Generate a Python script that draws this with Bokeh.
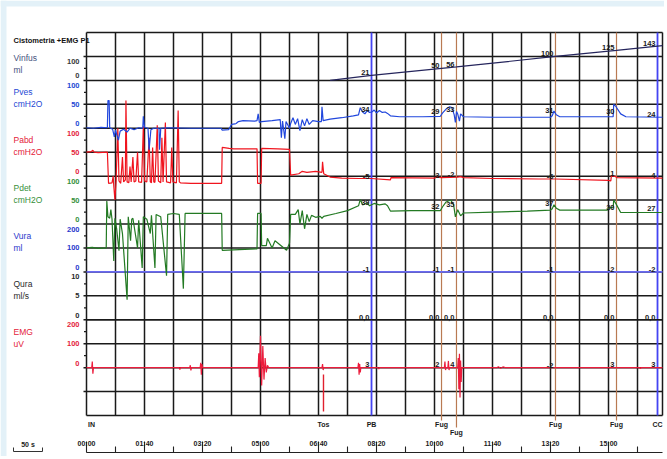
import numpy as np
from bokeh.plotting import figure
from bokeh.models import Range1d, ColumnDataSource
from bokeh.core.properties import value
from bokeh.embed import file_html
from bokeh.resources import INLINE

# ---------------------------------------------------------------- data
title_text = "Cistometria +EMG P1"
channel_names = ["Vinfus", "Pves", "Pabd", "Pdet", "Vura", "Qura", "EMG"]
channel_units = ["ml", "cmH2O", "cmH2O", "cmH2O", "ml", "ml/s", "uV"]
channel_ticks = [[100, 0], [100, 50, 0], [100, 50, 0], [100, 50, 0],
                 [200, 100, 0], [10, 5, 0], [200, 100, 0]]

time_tick_seconds = [0, 100, 200, 300, 400, 500, 600, 700, 800, 900]
time_tick_labels = ["00:00", "01:40", "03:20", "05:00", "06:40",
                    "08:20", "10:00", "11:40", "13:20", "15:00"]
scale_bar_seconds = 50
scale_bar_label = "50 s"

event_names = ["IN", "Tos", "PB", "Fug", "Fug", "Fug", "Fug", "CC"]
event_seconds = [0, 408.6, 491.4, 612.1, 637.9, 808.6, 913.8, 984.5]

marker_seconds = [491.4, 612.1, 637.9, 808.6, 913.8, 984.5]
marker_vinfus = [21, 50, 56, 100, 125, 143]
marker_pves = [34, 29, 33, 31, 30, 24]
marker_pabd = [-5, -3, -2, -6, 1, -4]
marker_pdet = [39, 32, 35, 37, 30, 27]
marker_vura = [-1, -1, -1, -1, -2, -2]
marker_qura = [0.0, 0.0, 0.0, 0.0, 0.0, 0.0]
marker_emg = [3, 2, 4, -2, 3, 3]

vinfus_t = [420, 491.4, 612.1, 637.9, 808.6, 913.8, 984.5, 993]
vinfus_v = [0, 21, 50, 56, 100, 125, 143, 145]

pves_t = [0, 12, 25, 36, 37, 39, 40, 45, 48, 50, 55, 58, 64, 70, 75, 82, 90, 97, 98, 100,
          106, 108, 111, 116, 125, 126, 128, 140, 180, 232, 234, 245, 250, 256, 258, 262,
          270, 290, 294, 296, 298, 302, 320, 334, 336, 338, 342, 344, 350, 352, 356, 360,
          364, 368, 372, 376, 380, 384, 390, 400, 405, 406, 408, 420, 440, 460, 469, 472,
          476, 480, 484, 488, 492, 496, 500, 505, 510, 515, 519, 524, 540, 580, 610, 614,
          620, 626, 630, 634, 636, 638, 640, 643, 645, 650, 700, 800, 803, 806, 810, 816,
          900, 908, 909, 913, 921, 930, 993]
pves_v = [1, 0, 2, 1, 58, 58, 1, -2, -18, -4, -25, -6, -2, -8, 0, -3, 1, 0, 25, 2,
          0, -45, -3, 0, 0, -45, 0, 1, 0, 0, -4, -3, 8, 9, 10, 14,
          16, 15, 16, 30, 12, 14, 16, 18, -20, 15, -22, 14, 0, 10, 22, 8,
          20, -5, 18, 5, 20, 8, 16, 14, 14, 45, 16, 19, 22, 26, 28, 43,
          34, 30, 37, 33, 34, 38, 32, 37, 33, 34, 31, 26, 24, 24, 25, 32,
          40, 45, 43, 28, 12, 35, 30, 15, 30, 24, 23, 23, 26, 36, 28, 24,
          24, 24, 50, 45, 30, 24, 23]

pabd_t = [0, 8, 11, 13, 20, 36, 38, 44, 46, 47, 49, 51, 54, 56, 59, 62, 64, 67, 68, 70,
          73, 75, 77, 80, 82, 85, 88, 90, 95, 98, 100, 104, 108, 110, 112, 114, 116, 118,
          122, 124, 128, 130, 132, 136, 138, 145, 147, 149, 155, 158, 160, 162, 180, 233,
          234, 246, 254, 294, 295, 301, 302, 330, 350, 352, 366, 372, 380, 395, 406, 407,
          409, 420, 440, 470, 491, 524, 525, 600, 604, 612, 640, 645, 650, 700, 780, 808,
          900, 904, 905, 910, 915, 993]
pabd_v = [50, 51, 54, 50, 49, 50, -15, -14, 0, -20, -50, -10, 100, -10, -15, 40, -12, -8, 158, -12,
          -14, 20, -12, 40, -12, -10, 50, -12, -13, 104, -10, -12, 80, -12, -14, 60, -12, -13,
          106, -10, -14, 80, -12, 112, -12, -14, 60, -12, -14, 137, -12, -14, -15, -15,
          60, 58, 57, 57, -15, -15, 58, 57, 56, 2, 5, 10, 8, 10, 8, 30,
          5, -2, -4, -5, -5, -8, -3, -4, -2, -3, -2, -1, -3, -5, -6, -6,
          -9, -10, 1, 0, -3, -4]

pdet_t = [0, 10, 20, 34, 35, 37, 40, 42, 44, 47, 49, 52, 56, 58, 62, 70, 72, 76, 78, 80,
          88, 90, 96, 98, 104, 110, 112, 118, 120, 128, 138, 140, 150, 160, 167, 170, 180,
          233, 234, 294, 295, 301, 302, 310, 312, 320, 325, 335, 345, 350, 352, 360, 365,
          368, 372, 376, 380, 384, 388, 395, 403, 406, 409, 430, 450, 469, 472, 476, 484,
          488, 496, 505, 515, 519, 524, 560, 610, 614, 620, 628, 633, 636, 640, 645, 650,
          700, 760, 800, 803, 806, 810, 816, 898, 900, 908, 909, 913, 921, 993]
pdet_v = [-50, -49, -51, -50, 48, 15, 12, 30, 10, -77, 12, -10, -56, 10, -20, -158, 15, -35, 10, 12,
          -50, 8, -92, 15, 10, -20, 18, -92, 20, 15, -108, 20, 22, 20, -135, 22, 22,
          22, -55, -52, 22, 22, -45, -45, -30, -50, -35, -45, -55, -40, 20, 20, 30,
          0, 28, -10, 20, 5, 18, 14, 16, 12, 16, 22, 28, 38, 51, 40, 44,
          38, 43, 40, 42, 38, 27, 28, 28, 36, 46, 50, 40, 15, 30, 17, 23,
          25, 27, 29, 32, 40, 33, 29, 29, 34, 34, 50, 42, 24, 24]

vura_t = [0, 993]
vura_v = [0, 0]
qura_t = [0, 993]
qura_v = [0, 0]

emg_t = [0, 9, 10, 11, 12, 160, 161, 162, 178, 179, 180, 181, 196, 197, 198, 199, 200,
         296, 297, 298, 300, 302, 304, 306, 308, 310, 312, 314, 406, 407, 408, 409,
         468, 469, 470, 471, 472, 473, 503, 504, 505, 603, 604, 605, 617, 618, 619, 620,
         623, 624, 625, 626, 640, 641, 642, 643, 644, 645, 646, 647, 708, 710, 714, 718,
         722, 954, 955, 956, 993]
emg_v = [0, 0, 25, -25, 0, 0, -8, 0, 0, 10, -12, 0, 0, 20, -30, 15, 0,
         0, 60, -40, 133, -75, 90, -50, 40, -20, 10, 0, 0, 15, -10, 0,
         0, 20, -30, 15, -20, 0, 0, -6, 0, 0, 5, 0, 0, 25, -10, 0,
         0, 28, -10, 0, 0, 40, -90, 58, -125, 30, -60, 0, 0, 4, -3, 3,
         0, 0, -5, 0, 0]

# ---------------------------------------------------------------- layout
ORIGIN = 0              # picture position of the figure's top-left corner
W, H = 664, 456
X0_PX = 86.0            # picture x of t = 0
PX_PER_S = 0.58
GRID_BOTTOM_PX = 415.0
CELL_PX = 23.9375
GRID_RIGHT_PX = 662.0
BAND_PX = 6             # light-blue frame band (top and left)

def t_at(px):
    return (px - X0_PX) / PX_PER_S

def g_at(py):
    return (GRID_BOTTOM_PX - py) / CELL_PX

x_lo, x_hi = t_at(ORIGIN), t_at(ORIGIN + W)
g_lo, g_hi = g_at(ORIGIN + H), g_at(ORIGIN)
t_end = t_at(GRID_RIGHT_PX)

channel_zero_g = [14, 12, 10, 8, 6, 4, 2]
channel_per_cell = [100, 50, 50, 50, 100, 5, 100]
channel_unit_g = [14.45, 13, 11, 9, 7, 5, 3]
label_colors = ["#45527e", "#2448d4", "#e4223a", "#36903a", "#2a38cc", "#2a2a2a", "#e4223a"]
tick_colors = ["#3a3a3a", "#2448d4", "#e4223a", "#36903a", "#2a38cc", "#2a2a2a", "#e4223a"]

FONT = value("Liberation Sans")
GRID = "#1a1a1a"

p = figure(width=W, height=H, x_range=Range1d(x_lo, x_hi), y_range=Range1d(g_lo, g_hi),
           output_backend="svg", toolbar_location=None,
           x_axis_location=None, y_axis_location=None, min_border=0,
           outline_line_color=None, background_fill_color="white",
           border_fill_color="white")
p.grid.visible = False

p.extra_y_ranges = {
    n: Range1d((g_lo - z) * c, (g_hi - z) * c)
    for n, z, c in zip(channel_names, channel_zero_g, channel_per_cell)
}

# light blue frame band
p.quad(left=[x_lo, x_lo], right=[x_hi, t_at(BAND_PX)], top=[g_hi, g_hi],
       bottom=[g_at(BAND_PX), g_lo], fill_color="#e3f1f8", line_color=None)

# ---------------------------------------------------------------- grid
vt = [float(v) for v in np.arange(0, 951, 50)] + [t_end]
p.segment(x0=vt, y0=[0] * len(vt), x1=vt, y1=[16] * len(vt),
          line_color=GRID, line_width=1.5)
rows = list(range(0, 17))
row_x0 = [0 if r in (0, 16) else t_at(83) for r in rows]
p.segment(x0=row_x0, y0=rows, x1=[t_end] * len(rows), y1=rows,
          line_color=GRID, line_width=1.5)
minor = [k + 0.5 for k in range(2, 15)]
p.segment(x0=[t_at(83.5)] * len(minor), y0=minor, x1=[0] * len(minor), y1=minor,
          line_color=GRID, line_width=1.2)

# ---------------------------------------------------------------- event markers
blue_mark = "#4444f2"
fug_mark = "#b97a52"
event_label_row = [0, 0, 0, 0, 1, 0, 0, 0]
for name, t, row in zip(event_names, event_seconds, event_label_row):
    if name == "Tos":
        p.segment(x0=[t], y0=[g_at(374)], x1=[t], y1=[g_at(411)], line_color="#e0202e", line_width=1.4)
    elif name in ("PB", "CC"):
        p.segment(x0=[t], y0=[0], x1=[t], y1=[16], line_color=blue_mark, line_width=1.8)
    elif name == "Fug":
        p.segment(x0=[t], y0=[g_at(420 + 7 * row)], x1=[t], y1=[16],
                  line_color=fug_mark, line_width=1.2)

# ---------------------------------------------------------------- signals
p.line(vura_t, vura_v, y_range_name="Vura", line_color="#6a6af2", line_width=1.6)
p.line(qura_t, qura_v, y_range_name="Qura", line_color="#1a1a1a", line_width=1.4)
p.line(vinfus_t, vinfus_v, y_range_name="Vinfus", line_color="#25255c", line_width=1.2)
p.line(pdet_t, pdet_v, y_range_name="Pdet", line_color="#237a23", line_width=1.2)
p.line(pabd_t, pabd_v, y_range_name="Pabd", line_color="#f0141e", line_width=1.2)
p.line(pves_t, pves_v, y_range_name="Pves", line_color="#2147dd", line_width=1.2)
p.line(emg_t, emg_v, y_range_name="EMG", line_color="#ec1c3c", line_width=1.2)

# ---------------------------------------------------------------- channel labels + ticks
p.text(x=[t_at(13)], y=[g_at(40)], text=[title_text], text_font=FONT,
       text_font_size="7.5px", text_font_style="bold", text_color="#111111",
       text_align="left", text_baseline="middle")
p.text(x=[t_at(13)] * 7, y=channel_unit_g, text=channel_units, text_font=FONT,
       text_font_size="8.5px", text_color=label_colors, text_align="left",
       text_baseline="middle")
p.text(x=[t_at(13)] * 7, y=channel_unit_g, text=channel_names, text_font=FONT,
       text_font_size="8.5px", text_color=label_colors, text_align="left",
       text_baseline="middle", y_offset=-12)

for name, ticks, col in zip(channel_names, channel_ticks, tick_colors):
    n = len(ticks)
    offs = [5 if i == 0 else (-4.5 if i == n - 1 else 0) for i in range(n)]
    src = ColumnDataSource(dict(x=[t_at(79)] * n, y=ticks, text=[str(v) for v in ticks], yo=offs))
    p.text(x="x", y="y", text="text", y_offset="yo", source=src, y_range_name=name,
           text_font=FONT, text_font_size="7.5px", text_font_style="bold", text_color=col,
           text_align="right", text_baseline="middle")

# ---------------------------------------------------------------- values at markers
marker_values = [marker_vinfus, marker_pves, marker_pabd, marker_pdet,
                 marker_vura, marker_qura, marker_emg]
for name, vals in zip(channel_names, marker_values):
    if name == "Qura":
        txt = [f"{v:.1f}".replace(".", ",") for v in vals]
    else:
        txt = [str(v) for v in vals]
    p.text(x=marker_seconds, y=vals, text=txt, y_range_name=name,
           text_font=FONT, text_font_size="7.5px", text_font_style="bold",
           text_color="#1a1a1a", text_align="right", text_baseline="alphabetic",
           x_offset=-2, y_offset=-2.5)

# ---------------------------------------------------------------- event names
ev_y = [g_at(424 + 8 * r) for r in event_label_row]
ev_align = ["left" if n == "IN" else "center" for n in event_names]
ev_x = [t + (1.5 / PX_PER_S if n == "IN" else 0) for n, t in zip(event_names, event_seconds)]
p.text(x=ev_x, y=ev_y, text=event_names, text_font=FONT, text_font_size="7px",
       text_font_style="bold", text_color="#1a1a1a", text_align=ev_align,
       text_baseline="middle")

# ---------------------------------------------------------------- time axis
axis_g = g_at(452)
p.segment(x0=[0], y0=[axis_g], x1=[t_at(662)], y1=[axis_g], line_color="#222222", line_width=1.2)
p.segment(x0=time_tick_seconds, y0=[g_at(441)] * len(time_tick_seconds),
          x1=time_tick_seconds, y1=[axis_g] * len(time_tick_seconds),
          line_color="#222222", line_width=1.1)
mt = [s + 50 for s in time_tick_seconds]
p.segment(x0=mt, y0=[g_at(446)] * len(mt), x1=mt, y1=[axis_g] * len(mt),
          line_color="#222222", line_width=1.1)
p.text(x=time_tick_seconds, y=[g_at(443)] * len(time_tick_seconds), text=time_tick_labels,
       text_font=FONT, text_font_size="7px", text_font_style="bold", text_color="#1a1a1a",
       text_align="center", text_baseline="middle")

# scale bar
sb0 = t_at(13)
sb1 = sb0 + scale_bar_seconds
bar_g = g_at(451)
p.segment(x0=[sb0, sb0, sb1], y0=[bar_g, g_at(447), g_at(447)],
          x1=[sb1, sb0, sb1], y1=[bar_g, bar_g, bar_g], line_color="#333333", line_width=1)
p.text(x=[(sb0 + sb1) / 2], y=[g_at(443.5)], text=[scale_bar_label], text_font=FONT,
       text_font_size="7px", text_font_style="bold", text_color="#1a1a1a",
       text_align="center", text_baseline="middle")

open("out.html", "w").write(file_html(p, INLINE))
